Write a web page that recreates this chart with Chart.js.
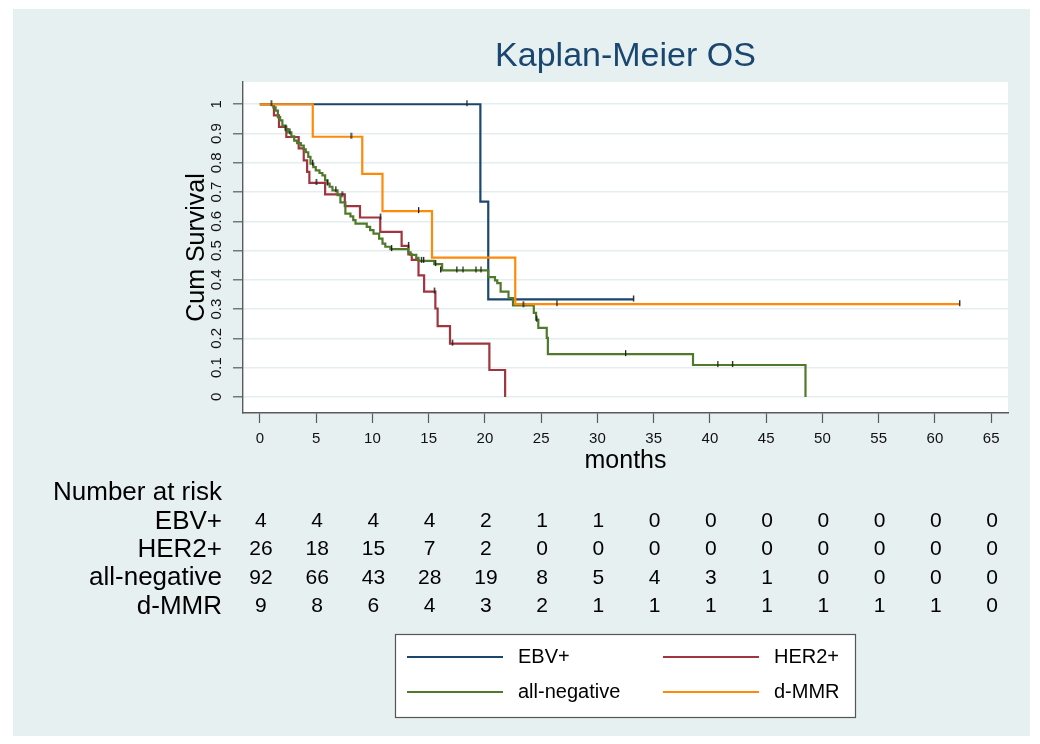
<!DOCTYPE html>
<html lang="en">
<head>
    <meta charset="UTF-8">
    <title>Kaplan-Meier OS</title>
    <style>
        body { margin: 0; background: #ffffff; }
        canvas { display: block; }
    </style>
</head>
<body>
    <canvas id="kmChart" width="1040" height="744"></canvas>

    <script src="https://cdn.jsdelivr.net/npm/chart.js"></script>
    <script>
        // axis ticks
        const monthTicks = [0, 5, 10, 15, 20, 25, 30, 35, 40, 45, 50, 55, 60, 65];
        const survTicks = [0, 0.1, 0.2, 0.3, 0.4, 0.5, 0.6, 0.7, 0.8, 0.9, 1];
        const groupNames = ['EBV+', 'HER2+', 'all-negative', 'd-MMR'];

        // EBV+
        const ebvTime = [0, 19.6, 20.3, 33.2];
        const ebvSurv = [1, 0.667, 0.333, 0.333];
        const ebvCensTime = [18.4, 33.2];
        const ebvCensSurv = [1, 0.333];

        // HER2+
        const her2Time = [0, 1.25, 1.7, 2.35, 3.45, 3.9, 4.2, 4.4, 5.8, 7.55, 8.9, 10.7, 12.6, 13.2, 13.5, 14.1, 14.6, 15.6, 15.8, 16.9, 20.4, 21.8];
        const her2Surv = [1, 0.962, 0.923, 0.888, 0.849, 0.808, 0.769, 0.731, 0.692, 0.652, 0.613, 0.564, 0.516, 0.487, 0.468, 0.415, 0.36, 0.302, 0.242, 0.182, 0.092, 0];
        const her2CensTime = [5.0, 10.7, 13.2, 15.5, 17.1];
        const her2CensSurv = [0.731, 0.613, 0.516, 0.36, 0.182];

        // all-negative
        const negTime = [0, 1.2, 1.4, 1.6, 1.8, 2.0, 2.3, 2.5, 2.8, 3.05, 3.3, 3.64, 3.9, 4.08, 4.3, 4.5, 4.75, 4.97, 5.3, 5.56, 5.8, 6.0, 6.2, 6.45, 6.9, 7.16, 7.6, 8.05, 8.3, 8.5, 9.5, 9.8, 10.1, 10.6, 10.9, 11.15, 11.6, 13.2, 13.4, 13.9, 14.1, 15.5, 16.2, 20.3, 20.9, 21.1, 21.4, 22.1, 22.5, 24.35, 24.55, 24.75, 25.5, 25.6, 38.5, 48.5];
        const negSurv = [1, 0.989, 0.978, 0.956, 0.945, 0.927, 0.915, 0.904, 0.89, 0.876, 0.867, 0.859, 0.846, 0.836, 0.82, 0.797, 0.785, 0.774, 0.765, 0.757, 0.74, 0.729, 0.718, 0.706, 0.689, 0.665, 0.626, 0.617, 0.604, 0.592, 0.581, 0.57, 0.558, 0.541, 0.524, 0.513, 0.505, 0.494, 0.485, 0.475, 0.465, 0.454, 0.432, 0.409, 0.398, 0.389, 0.36, 0.338, 0.313, 0.287, 0.264, 0.236, 0.202, 0.146, 0.109, 0];
        const negCensTime = [1.0, 2.25, 2.66, 4.68, 6.0, 6.74, 7.3, 11.7, 14.35, 14.55, 15.6, 16.06, 17.5, 18.05, 19.2, 19.65, 23.4, 24.6, 32.5, 40.7, 42.0];
        const negCensSurv = [1, 0.915, 0.904, 0.797, 0.729, 0.706, 0.689, 0.505, 0.465, 0.465, 0.454, 0.432, 0.432, 0.432, 0.432, 0.432, 0.313, 0.264, 0.146, 0.109, 0.109];

        // d-MMR
        const dmmrTime = [0, 4.7, 9.1, 10.9, 15.3, 22.7, 62.2];
        const dmmrSurv = [1, 0.889, 0.762, 0.635, 0.476, 0.317, 0.317];
        const dmmrCensTime = [8.1, 14.1, 26.4, 62.2];
        const dmmrCensSurv = [0.889, 0.635, 0.317, 0.317];

        // number at risk, one value per month tick
        const riskEbv = [4, 4, 4, 4, 2, 1, 1, 0, 0, 0, 0, 0, 0, 0];
        const riskHer2 = [26, 18, 15, 7, 2, 0, 0, 0, 0, 0, 0, 0, 0, 0];
        const riskNeg = [92, 66, 43, 28, 19, 8, 5, 4, 3, 1, 0, 0, 0, 0];
        const riskDmmr = [9, 8, 6, 4, 3, 2, 1, 1, 1, 1, 1, 1, 1, 0];

        const colEbv = '#1a476f';
        const colHer2 = '#a0353f';
        const colNeg = '#4f7a2a';
        const colDmmr = '#ff8a0a';
        const font = '"Liberation Sans", Arial, sans-serif';

        function pts(xs, ys) {
            return xs.map((x, i) => ({ x: x, y: ys[i] }));
        }

        // small censor tick, sitting mostly above the line
        const tickMark = document.createElement('canvas');
        tickMark.width = 3;
        tickMark.height = 10;
        const tctx = tickMark.getContext('2d');
        tctx.fillStyle = '#1e1e1e';
        tctx.fillRect(1, 1, 1.3, 6);

        function curve(label, xs, ys, color, order) {
            return {
                label: label,
                data: pts(xs, ys),
                borderColor: color,
                borderWidth: 2.2,
                stepped: 'before',
                pointRadius: 0,
                fill: false,
                order: order
            };
        }

        function censors(xs, ys) {
            return {
                label: 'censored',
                data: pts(xs, ys),
                showLine: false,
                pointStyle: tickMark,
                pointRadius: 3,
                order: 0
            };
        }

        const bgPlugin = {
            id: 'stataBg',
            beforeDraw(chart) {
                const ctx = chart.ctx;
                const a = chart.chartArea;
                ctx.save();
                ctx.fillStyle = '#ffffff';
                ctx.fillRect(0, 0, chart.width, chart.height);
                ctx.fillStyle = '#e6f0f1';
                ctx.fillRect(13, 9, 1017, 727);
                ctx.fillStyle = '#ffffff';
                ctx.fillRect(a.left, a.top, a.right - a.left, a.bottom - a.top);
                ctx.restore();
            },
            afterDraw(chart) {
                const ctx = chart.ctx;
                const a = chart.chartArea;
                const xs = chart.scales.x;
                const ys = chart.scales.y;
                const midX = (a.left + a.right) / 2;
                ctx.save();

                // title
                ctx.fillStyle = '#1a476f';
                ctx.font = '34px ' + font;
                ctx.textAlign = 'center';
                ctx.textBaseline = 'middle';
                ctx.fillText('Kaplan-Meier OS', midX, 57);

                // axis titles
                ctx.fillStyle = '#000000';
                ctx.font = '25px ' + font;
                ctx.fillText('months', midX, 461);
                ctx.save();
                ctx.translate(197, (a.top + a.bottom) / 2);
                ctx.rotate(-Math.PI / 2);
                ctx.fillText('Cum Survival', 0, 0);
                ctx.restore();

                // y tick labels, rotated
                ctx.fillStyle = '#111111';
                ctx.font = '15px ' + font;
                survTicks.forEach(v => {
                    ctx.save();
                    ctx.translate(217, ys.getPixelForValue(v));
                    ctx.rotate(-Math.PI / 2);
                    ctx.fillText(String(Math.round(v * 10) / 10), 0, 0);
                    ctx.restore();
                });

                // number at risk table
                ctx.fillStyle = '#000000';
                ctx.font = '26px ' + font;
                ctx.textAlign = 'left';
                ctx.fillText('Number at risk', 53, 493);
                const rows = [riskEbv, riskHer2, riskNeg, riskDmmr];
                const rowY = [521.5, 549.5, 578, 606.5];
                rows.forEach((r, i) => {
                    ctx.font = '26px ' + font;
                    ctx.textAlign = 'right';
                    ctx.fillText(groupNames[i], 222, rowY[i]);
                    ctx.font = '21px ' + font;
                    ctx.textAlign = 'center';
                    r.forEach((n, j) => {
                        ctx.fillText(String(n), xs.getPixelForValue(monthTicks[j]) + 1, rowY[i]);
                    });
                });

                // legend box
                ctx.fillStyle = '#ffffff';
                ctx.fillRect(395, 634, 460, 83);
                ctx.strokeStyle = '#555555';
                ctx.lineWidth = 1.2;
                ctx.strokeRect(395.5, 634.5, 460, 83);
                const items = [
                    [colEbv, 407, 657], [colHer2, 663, 657],
                    [colNeg, 407, 692], [colDmmr, 663, 692]
                ];
                ctx.font = '20px ' + font;
                ctx.textAlign = 'left';
                items.forEach((it, i) => {
                    ctx.strokeStyle = it[0];
                    ctx.lineWidth = 2;
                    ctx.beginPath();
                    ctx.moveTo(it[1], it[2]);
                    ctx.lineTo(it[1] + 96, it[2]);
                    ctx.stroke();
                    ctx.fillStyle = '#000000';
                    ctx.fillText(groupNames[i], it[1] + 111, it[2]);
                });
                ctx.restore();
            }
        };

        new Chart(document.getElementById('kmChart'), {
            type: 'line',
            data: {
                datasets: [
                    curve('EBV+', ebvTime, ebvSurv, colEbv, 4),
                    curve('HER2+', her2Time, her2Surv, colHer2, 3),
                    curve('all-negative', negTime, negSurv, colNeg, 2),
                    curve('d-MMR', dmmrTime, dmmrSurv, colDmmr, 1),
                    censors(ebvCensTime, ebvCensSurv),
                    censors(her2CensTime, her2CensSurv),
                    censors(negCensTime, negCensSurv),
                    censors(dmmrCensTime, dmmrCensSurv)
                ]
            },
            options: {
                responsive: false,
                animation: false,
                devicePixelRatio: 1,
                layout: {
                    padding: { left: 0, top: 82, right: 32, bottom: 271 }
                },
                plugins: {
                    legend: { display: false },
                    title: { display: false },
                    tooltip: { enabled: false }
                },
                scales: {
                    x: {
                        type: 'linear',
                        min: -1.5,
                        max: 66.5,
                        afterBuildTicks: s => { s.ticks = monthTicks.map(v => ({ value: v })); },
                        afterFit: s => { s.height = 60; },
                        ticks: {
                            color: '#111111',
                            font: { size: 15, family: font },
                            padding: 7,
                            maxRotation: 0,
                            autoSkip: false
                        },
                        grid: {
                            drawOnChartArea: false,
                            tickLength: 10,
                            tickColor: '#5a5a5a',
                            tickWidth: 1.2
                        },
                        border: { color: '#5a5a5a', width: 1.4 }
                    },
                    y: {
                        type: 'linear',
                        min: -0.055,
                        max: 1.076,
                        afterBuildTicks: s => { s.ticks = survTicks.map(v => ({ value: v })); },
                        afterFit: s => { s.width = 243; },
                        ticks: { display: false },
                        grid: {
                            color: '#e4eef0',
                            lineWidth: 1.6,
                            tickLength: 10,
                            tickColor: '#5a5a5a',
                            tickWidth: 1.2
                        },
                        border: { color: '#5a5a5a', width: 1.4 }
                    }
                }
            },
            plugins: [bgPlugin]
        });
    </script>
</body>
</html>
